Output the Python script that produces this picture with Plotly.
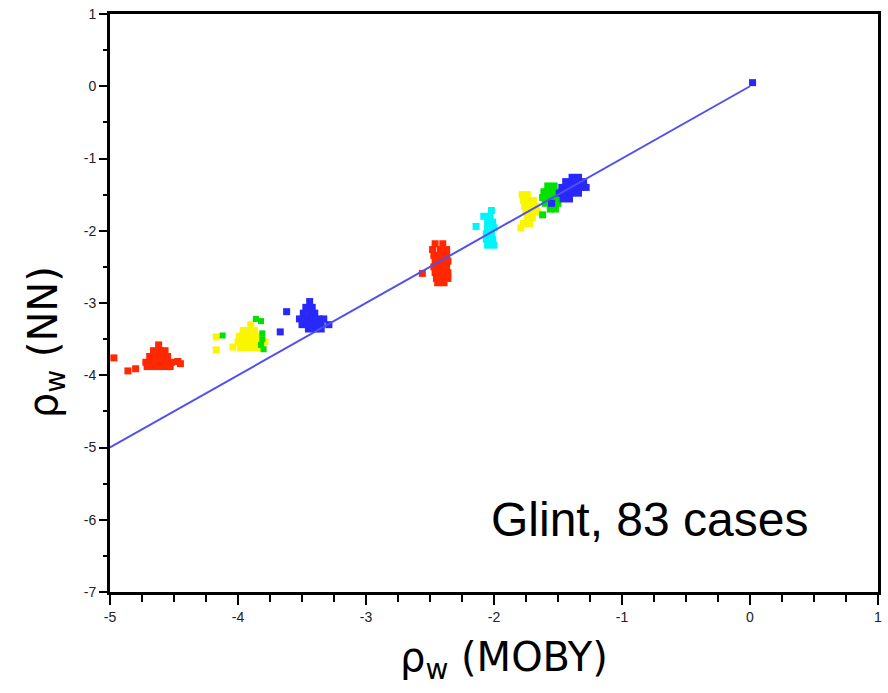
import plotly.graph_objects as go

# ---- data ----
red_a_x = [-4.62, -4.66, -4.61, -4.57, -4.69, -4.64, -4.59, -4.55, -4.72, -4.67, -4.62, -4.57, -4.52,
           -4.71, -4.66, -4.61, -4.56, -4.53, -4.97, -4.86, -4.80, -4.45, -4.47]
red_a_y = [-3.58, -3.66, -3.66, -3.66, -3.74, -3.74, -3.74, -3.74, -3.82, -3.82, -3.82, -3.82, -3.82,
           -3.88, -3.88, -3.88, -3.88, -3.88, -3.76, -3.94, -3.91, -3.84, -3.81]

yel_b_x = [-3.90, -3.96, -3.92, -3.87, -3.99, -3.94, -3.89, -3.85, -4.00, -3.95, -3.90, -3.85, -3.79,
           -3.98, -3.93, -3.88, -3.83, -4.17, -4.17, -4.04]
yel_b_y = [-3.30, -3.38, -3.38, -3.38, -3.46, -3.46, -3.46, -3.46, -3.54, -3.54, -3.54, -3.54, -3.54,
           -3.62, -3.62, -3.62, -3.62, -3.47, -3.65, -3.61]

grn_b_x = [-3.86, -3.82, -3.81, -3.81, -3.82, -3.80, -4.12]
grn_b_y = [-3.22, -3.25, -3.42, -3.50, -3.58, -3.64, -3.45]

blu_c_x = [-3.44, -3.47, -3.42, -3.49, -3.44, -3.40, -3.52, -3.47, -3.42, -3.37, -3.33,
           -3.50, -3.45, -3.40, -3.35, -3.29, -3.45, -3.40, -3.35, -3.62, -3.67]
blu_c_y = [-2.98, -3.06, -3.06, -3.14, -3.14, -3.14, -3.22, -3.22, -3.22, -3.22, -3.22,
           -3.30, -3.30, -3.30, -3.30, -3.30, -3.36, -3.36, -3.36, -3.12, -3.40]

red_d_x = [-2.46, -2.40, -2.48, -2.42, -2.37, -2.47, -2.42, -2.37, -2.46, -2.41, -2.36,
           -2.47, -2.42, -2.37, -2.46, -2.41, -2.36, -2.45, -2.40, -2.36, -2.44, -2.39, -2.56]
red_d_y = [-2.18, -2.18, -2.26, -2.26, -2.26, -2.34, -2.34, -2.34, -2.42, -2.42, -2.42,
           -2.50, -2.50, -2.50, -2.58, -2.58, -2.58, -2.66, -2.66, -2.66, -2.72, -2.72, -2.59]

cyn_e_x = [-2.02, -2.08, -2.03, -2.05, -2.01, -2.05, -2.00, -2.06, -2.02, -2.06, -2.01, -2.05, -2.00, -2.14]
cyn_e_y = [-1.72, -1.80, -1.80, -1.88, -1.88, -1.96, -1.96, -2.04, -2.04, -2.12, -2.12, -2.20, -2.20, -1.94]

yel_f_x = [-1.78, -1.74, -1.77, -1.73, -1.69, -1.76, -1.72, -1.67, -1.75, -1.71, -1.66,
           -1.74, -1.70, -1.77, -1.72, -1.79]
yel_f_y = [-1.50, -1.50, -1.58, -1.58, -1.58, -1.66, -1.66, -1.66, -1.74, -1.74, -1.74,
           -1.82, -1.82, -1.90, -1.90, -1.96]

grn_g_x = [-1.58, -1.53, -1.61, -1.56, -1.51, -1.62, -1.57, -1.52, -1.48, -1.60, -1.55, -1.50,
           -1.56, -1.52, -1.62]
grn_g_y = [-1.38, -1.38, -1.46, -1.46, -1.46, -1.54, -1.54, -1.54, -1.54, -1.62, -1.62, -1.62,
           -1.70, -1.70, -1.78]

blu_h_x = [-1.39, -1.34, -1.44, -1.39, -1.34, -1.30, -1.47, -1.42, -1.37, -1.32, -1.28,
           -1.49, -1.44, -1.39, -1.34, -1.46, -1.41, -1.55, 0.02]
blu_h_y = [-1.26, -1.26, -1.32, -1.32, -1.32, -1.32, -1.40, -1.40, -1.40, -1.40, -1.40,
           -1.48, -1.48, -1.48, -1.48, -1.56, -1.56, -1.62, 0.05]

line_x = [-5, 0]
line_y = [-5, 0]

x_ticks = [-5, -4, -3, -2, -1, 0, 1]
x_ticklabels = ["-5", "-4", "-3", "-2", "-1", "0", "1"]
y_ticks = [-7, -6, -5, -4, -3, -2, -1, 0, 1]
y_ticklabels = ["-7", "-6", "-5", "-4", "-3", "-2", "-1", "0", "1"]

RED = "rgb(255,40,0)"
YEL = "rgb(250,245,0)"
GRN = "rgb(0,225,0)"
BLU = "rgb(40,40,250)"
CYN = "rgb(0,245,250)"

fig = go.Figure()

def add(xs, ys, color, size=7):
    fig.add_trace(go.Scatter(x=xs, y=ys, mode="markers",
                             marker=dict(symbol="square", size=size, color=color,
                                         line=dict(width=0)),
                             showlegend=False, hoverinfo="skip"))

add(red_a_x, red_a_y, RED)
add(yel_b_x, yel_b_y, YEL)
add(grn_b_x, grn_b_y, GRN, 6)
add(blu_c_x, blu_c_y, BLU)
add(red_d_x, red_d_y, RED)
add(cyn_e_x, cyn_e_y, CYN)
add(yel_f_x, yel_f_y, YEL)
add(grn_g_x, grn_g_y, GRN)
add(blu_h_x, blu_h_y, BLU)

fig.add_trace(go.Scatter(x=line_x, y=line_y, mode="lines",
                         line=dict(color="rgb(80,80,240)", width=2),
                         showlegend=False, hoverinfo="skip"))

fig.add_annotation(x=0.702, y=0.125, xref="paper", yref="paper",
                   xanchor="center", yanchor="middle",
                   text="Glint, 83 cases", showarrow=False,
                   font=dict(family="Liberation Sans, Arial", size=48, color="black"))

# axis titles as annotations for exact placement
fig.add_annotation(x=0.513, y=-0.118, xref="paper", yref="paper",
                   xanchor="center", yanchor="middle",
                   text="ρ<sub>w</sub> (MOBY)", showarrow=False,
                   font=dict(family="DejaVu Sans", size=40, color="black"))
fig.add_annotation(x=-0.084, y=0.433, xref="paper", yref="paper",
                   xanchor="center", yanchor="middle", textangle=-90,
                   text="ρ<sub>w</sub> (NN)", showarrow=False,
                   font=dict(family="DejaVu Sans", size=40, color="black"))

axis_common = dict(showline=True, linecolor="black", linewidth=3, mirror=True,
                   ticks="outside", tickcolor="black", tickwidth=2,
                   showgrid=False, zeroline=False,
                   tickfont=dict(family="Liberation Sans, Arial", size=14, color="#222"))

fig.update_xaxes(range=[-5, 1], tickvals=x_ticks, ticktext=x_ticklabels, ticklen=10,
                 minor=dict(dtick=0.25, tick0=0, ticks="outside", ticklen=7, tickwidth=2,
                            tickcolor="black"),
                 **axis_common)
fig.update_yaxes(range=[-7, 1], tickvals=y_ticks, ticktext=y_ticklabels, ticklen=8,
                 minor=dict(dtick=0.5, tick0=0, ticks="outside", ticklen=4, tickwidth=2,
                            tickcolor="black"),
                 **axis_common)

fig.update_layout(width=888, height=693, margin=dict(l=110, r=6, t=14, b=101),
                  plot_bgcolor="white", paper_bgcolor="white")

fig.write_html("out.html")
